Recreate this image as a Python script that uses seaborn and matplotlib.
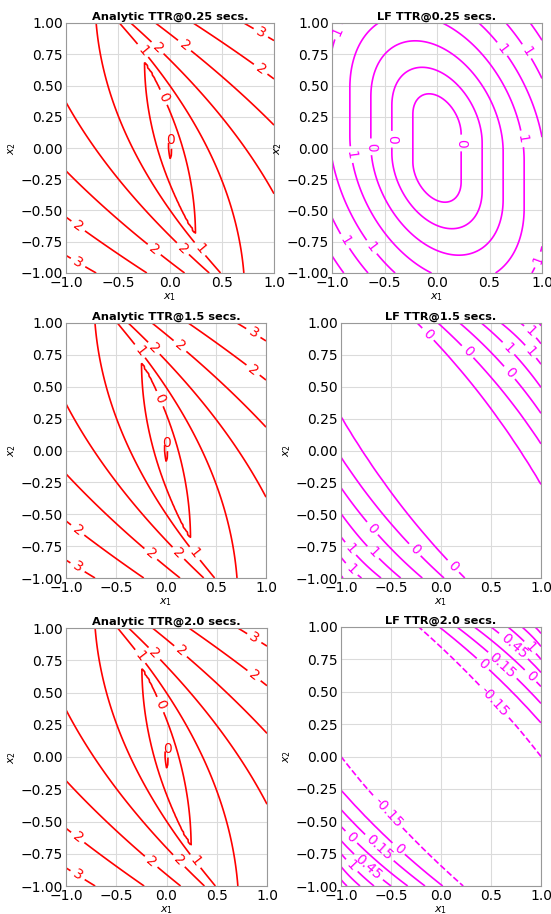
import numpy as np
import matplotlib
matplotlib.use("Agg")
import matplotlib.pyplot as plt
import seaborn as sns

# ---------------- data ----------------
TIMES = ["0.25", "1.5", "2.0"]
GRID_N = 101

# Analytic TTR (double integrator, min-time) contour levels and their label texts
AN_LEVELS = [0.2, 0.7, 1.2, 1.7, 2.2, 2.7, 3.2]
AN_TEXT = ["0", "0", "1", "2", "2", "2", "3"]
AN_LABEL_POS = [(0.0, 0.06), (-0.05, 0.41), (-0.26, 0.78), (-0.11, 0.81), (0.14, 0.82),
                (0.88, 0.93), (0.88, 0.64), (-0.88, -0.62), (-0.88, -0.91),
                (-0.14, -0.80), (0.13, -0.80), (0.30, -0.80)]
AN_UPRIGHT = [0]   # index of the label drawn upright (tiny contour at the origin)

# LF TTR@0.25 : rounded ovals (distance to a short sheared segment)
LF025_SHEAR = 0.35
LF025_HALF = 0.19
LF025_LEVELS = [0.23, 0.43, 0.63, 0.83, 1.03, 1.23, 1.43]
LF025_TEXT = ["0", "0", "0", "1", "1", "1", "1"]
LF025_LABEL_POS = [(0.22, 0.04), (-0.40, 0.07), (-0.60, 0.01), (-0.79, -0.05), (0.79, 0.07),
                   (-0.94, 0.93), (0.65, 0.81), (0.905, 0.80), (-0.905, -0.76),
                   (-0.635, -0.80), (0.95, -0.89)]

# LF TTR@1.5 : corner bands; P = edge intercept along bottom/top edge, R = along left/right edge
LF15_P = [1.238, 1.03, 0.813, 0.597, 0.40, 0.205, 0.02]
LF15_R = [1.268, 0.947, 0.708, 0.505, 0.323, 0.162, 0.02]
LF15_TEXT = ["0", "0", "0", "1", "1", "1", "1"]
LF15_BOW = 0.3
LF15_LABEL_POS = [(-0.12, 0.92), (0.26, 0.77), (0.67, 0.60), (0.66, 0.79), (0.89, 0.77),
                  (0.89, 0.93), (0.12, -0.91), (-0.25, -0.77), (-0.67, -0.60),
                  (-0.64, -0.77), (-0.89, -0.76), (-0.88, -0.92)]

# LF TTR@2.0
LF20_P = [1.222, 1.017, 0.84, 0.667, 0.50, 0.33, 0.19, 0.06]
LF20_R = [1.0, 0.74, 0.59, 0.46, 0.35, 0.25, 0.15, 0.05]
LF20_TEXT = ["-0.15", "0", "0.15", "0", "0.45", "1", "", ""]
LF20_STYLE = ["dashed", "solid", "solid", "solid", "solid", "solid", "solid", "solid"]
LF20_BOW = 0.2
LF20_LABEL_POS = [(0.53, 0.425), (0.39, 0.69), (0.59, 0.684), (0.71, 0.84), (0.875, 0.606),
                  (0.875, 0.83), (-0.527, -0.426), (-0.393, -0.684), (-0.593, -0.684),
                  (-0.877, -0.606), (-0.71, -0.84), (-0.877, -0.83)]

RED = "#ff0000"
MAGENTA = "#ff00ff"

# ---------------- style ----------------
sns.set_style("whitegrid", {"axes.edgecolor": "0.6", "grid.color": "0.86",
                            "axes.linewidth": 1.0, "grid.linewidth": 0.8,
                            "text.color": "black", "xtick.color": "black",
                            "ytick.color": "black", "axes.labelcolor": "black"})
plt.rcParams["font.family"] = ["DejaVu Sans"]

g = np.linspace(-1, 1, GRID_N)
X1, X2 = np.meshgrid(g, g)

# analytic field
S = X1 + X2 * np.abs(X2) / 2
TTR = np.where(S > 0,
               X2 + 2 * np.sqrt(np.maximum(X1 + X2 ** 2 / 2, 0)),
               -X2 + 2 * np.sqrt(np.maximum(-X1 + X2 ** 2 / 2, 0)))

# LF 0.25 field
X2s = X2 + LF025_SHEAR * X1
LF025 = np.sqrt(X1 ** 2 + np.maximum(np.abs(X2s) - LF025_HALF, 0) ** 2)


def corner_field(Pl, Rl, bow):
    Pl = np.asarray(Pl, float)
    Rl = np.asarray(Rl, float)
    o = np.argsort(Pl)
    Ps, ratio = Pl[o], (Rl / Pl)[o]

    def solve(X, Y):
        lo = np.full_like(X, 1e-4)
        hi = np.full_like(X, 5.0)
        for _ in range(50):
            mid = 0.5 * (lo + hi)
            R = mid * np.interp(mid, Ps, ratio)
            gval = X / mid + Y / R + bow * X * Y / (mid * R) - 1
            lo = np.where(gval > 0, mid, lo)
            hi = np.where(gval > 0, hi, mid)
        return 0.5 * (lo + hi)

    return np.minimum(solve(X1 + 1, X2 + 1), solve(1 - X1, 1 - X2))


LF15 = corner_field(LF15_P, LF15_R, LF15_BOW)
LF20 = corner_field(LF20_P, LF20_R, LF20_BOW)

# ---------------- figure ----------------
W, H = 551, 914
fig = plt.figure(figsize=(W / 100, H / 100), dpi=100)


def make_ax(l, r, t, b):
    return fig.add_axes([l / W, 1 - b / H, (r - l) / W, (b - t) / H])


boxes = [
    [(66, 274, 23, 273), (332, 542, 23, 273)],
    [(66, 266, 323, 578), (341, 541, 323, 578)],
    [(66, 267, 628, 886), (341, 541, 627, 886)],
]


def style_ax(ax, title):
    ax.set_xlim(-1, 1)
    ax.set_ylim(-1, 1)
    ax.set_xticks([-1, -0.5, 0, 0.5, 1])
    ax.set_yticks([-1, -0.75, -0.5, -0.25, 0, 0.25, 0.5, 0.75, 1])
    ax.tick_params(labelsize=10, length=0, pad=2, colors="black")
    ax.set_title(title, fontsize=8.2, fontweight="bold", pad=2, color="black")
    ax.set_xlabel(r"$x_1$", fontsize=8, labelpad=1, color="black")
    ax.set_ylabel(r"$x_2$", fontsize=8, labelpad=2, color="black")
    for s in ax.spines.values():
        s.set_visible(True)


def draw(ax, field, levels, texts, pos, color, styles=None, upright=()):
    order = np.argsort(levels)
    lv = [levels[i] for i in order]
    ls = None if styles is None else [styles[i] for i in order]
    cs = ax.contour(X1, X2, field, levels=lv, colors=color, linewidths=1.2, linestyles=ls)
    fmt = {levels[i]: texts[i] for i in range(len(levels))}
    labels = ax.clabel(cs, fmt=fmt, fontsize=10, inline=True, inline_spacing=4, manual=pos)
    for i in upright:
        labels[i].set_rotation(0)


for row, t in enumerate(TIMES):
    axl = make_ax(*boxes[row][0])
    style_ax(axl, f"Analytic TTR@{t} secs.")
    draw(axl, TTR, AN_LEVELS, AN_TEXT, AN_LABEL_POS, RED, upright=AN_UPRIGHT)

    axr = make_ax(*boxes[row][1])
    style_ax(axr, f"LF TTR@{t} secs.")
    if row == 0:
        draw(axr, LF025, LF025_LEVELS, LF025_TEXT, LF025_LABEL_POS, MAGENTA)
    elif row == 1:
        draw(axr, LF15, LF15_P, LF15_TEXT, LF15_LABEL_POS, MAGENTA)
    else:
        draw(axr, LF20, LF20_P, LF20_TEXT, LF20_LABEL_POS, MAGENTA, LF20_STYLE)

fig.savefig("out.png", dpi=100)
